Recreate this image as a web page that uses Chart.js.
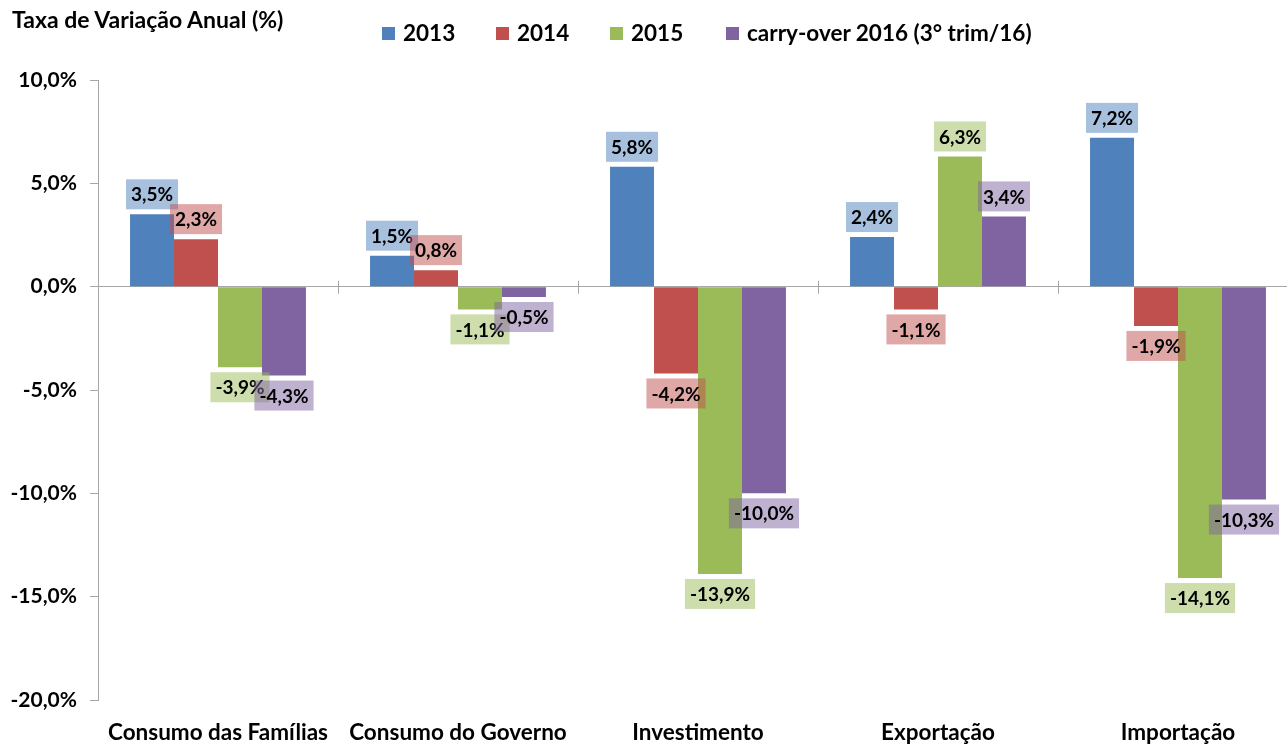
<!DOCTYPE html>
<html>
<head>
<meta charset="utf-8">
<script src="https://cdn.jsdelivr.net/npm/chart.js@4/dist/chart.umd.min.js"></script>
<style>
  html, body { margin: 0; padding: 0; background: #fff; overflow: hidden; }
  #wrap { position: relative; width: 1300px; height: 745px; }
  #title { position: absolute; left: 12px; top: 5px; font: bold 23px Lato, sans-serif; color: #000; }
  .leg { position: absolute; top: 19px; font: bold 22.5px Lato, sans-serif; color: #000; white-space: nowrap; }
  .leg i { display: inline-block; width: 13px; height: 13px; margin-right: 8px; vertical-align: 1px; }
</style>
</head>
<body>
<div id="wrap">
  <canvas id="chart" width="1300" height="745"></canvas>
  <div id="title">Taxa de Variação Anual (%)</div>
  <div id="legend"></div>
</div>
<script>
const categories = ['Consumo das Famílias', 'Consumo do Governo', 'Investimento', 'Exportação', 'Importação'];
const seriesNames = ['2013', '2014', '2015', 'carry-over 2016 (3° trim/16)'];
const v2013 = [3.5, 1.5, 5.8, 2.4, 7.2];
const v2014 = [2.3, 0.8, -4.2, -1.1, -1.9];
const v2015 = [-3.9, -1.1, -13.9, 6.3, -14.1];
const vCarry = [-4.3, -0.5, -10.0, 3.4, -10.3];
const yTicks = [10, 5, 0, -5, -10, -15, -20];

const colors = ['#4F81BD', '#C0504D', '#9BBB59', '#8064A2'];
const labelBg = ['rgba(79,129,189,0.5)', 'rgba(192,80,77,0.5)', 'rgba(155,187,89,0.5)', 'rgba(128,100,162,0.5)'];
const legendLeft = [382, 496, 610, 726];

const fmt = v => v.toFixed(1).replace('.', ',') + '%';

// html legend
const legendEl = document.getElementById('legend');
seriesNames.forEach((n, i) => {
  const d = document.createElement('div');
  d.className = 'leg';
  d.style.left = legendLeft[i] + 'px';
  d.innerHTML = '<i style="background:' + colors[i] + '"></i>' + n;
  legendEl.appendChild(d);
});

// zero line tick marks between categories
const zeroTicks = {
  id: 'zeroTicks',
  afterDatasetsDraw(chart) {
    const { ctx, scales: { x, y } } = chart;
    const y0 = y.getPixelForValue(0);
    ctx.save();
    ctx.strokeStyle = '#a6a6a6';
    ctx.lineWidth = 1;
    for (let i = 0; i < categories.length - 1; i++) {
      const bx = Math.round((x.getPixelForValue(i) + x.getPixelForValue(i + 1)) / 2) + 0.5;
      ctx.beginPath();
      ctx.moveTo(bx, y0 - 6);
      ctx.lineTo(bx, y0 + 7);
      ctx.stroke();
    }
    ctx.restore();
  }
};

// value labels with tinted boxes
const boxLabels = {
  id: 'boxLabels',
  afterDatasetsDraw(chart) {
    const ctx = chart.ctx;
    ctx.save();
    ctx.font = 'bold 19px Lato, sans-serif';
    ctx.textAlign = 'center';
    ctx.textBaseline = 'middle';
    chart.data.datasets.forEach((ds, di) => {
      chart.getDatasetMeta(di).data.forEach((bar, i) => {
        const v = ds.data[i];
        const txt = fmt(v);
        const w = ctx.measureText(txt).width + 10;
        const h = 30;
        const top = v >= 0 ? bar.y - 5 - h : bar.y + 5;
        ctx.fillStyle = labelBg[di];
        ctx.fillRect(bar.x - w / 2, top, w, h);
        ctx.fillStyle = '#000';
        ctx.fillText(txt, bar.x, top + h / 2 + 1);
      });
    });
    ctx.restore();
  }
};

new Chart(document.getElementById('chart'), {
  type: 'bar',
  data: {
    labels: categories,
    datasets: [v2013, v2014, v2015, vCarry].map((d, i) => ({
      label: seriesNames[i],
      data: d,
      backgroundColor: colors[i],
      borderWidth: 0,
      barPercentage: 1,
      categoryPercentage: 0.733
    }))
  },
  options: {
    responsive: false,
    animation: false,
    layout: { padding: { top: 80, right: 2, left: 0, bottom: 0 } },
    plugins: { legend: { display: false }, title: { display: false }, tooltip: { enabled: false } },
    scales: {
      x: {
        grid: { display: false },
        border: { display: false },
        ticks: { color: '#000', font: { family: 'Lato', weight: 'bold', size: 22.5 }, padding: 11, maxRotation: 0 },
        afterFit: a => { a.height = 45; }
      },
      y: {
        min: -20, max: 10,
        afterBuildTicks: a => { a.ticks = yTicks.map(v => ({ value: v })); },
        grid: {
          drawOnChartArea: true,
          color: c => (c.tick && c.tick.value === 0 ? '#a6a6a6' : 'rgba(0,0,0,0)'),
          tickColor: '#a6a6a6',
          tickLength: 8
        },
        border: { display: true, color: '#a6a6a6' },
        ticks: { color: '#000', font: { family: 'Lato', weight: 'bold', size: 21 }, padding: 13, callback: v => fmt(v) },
        afterFit: a => { a.width = 98; }
      }
    }
  },
  plugins: [zeroTicks, boxLabels]
});
</script>
</body>
</html>
